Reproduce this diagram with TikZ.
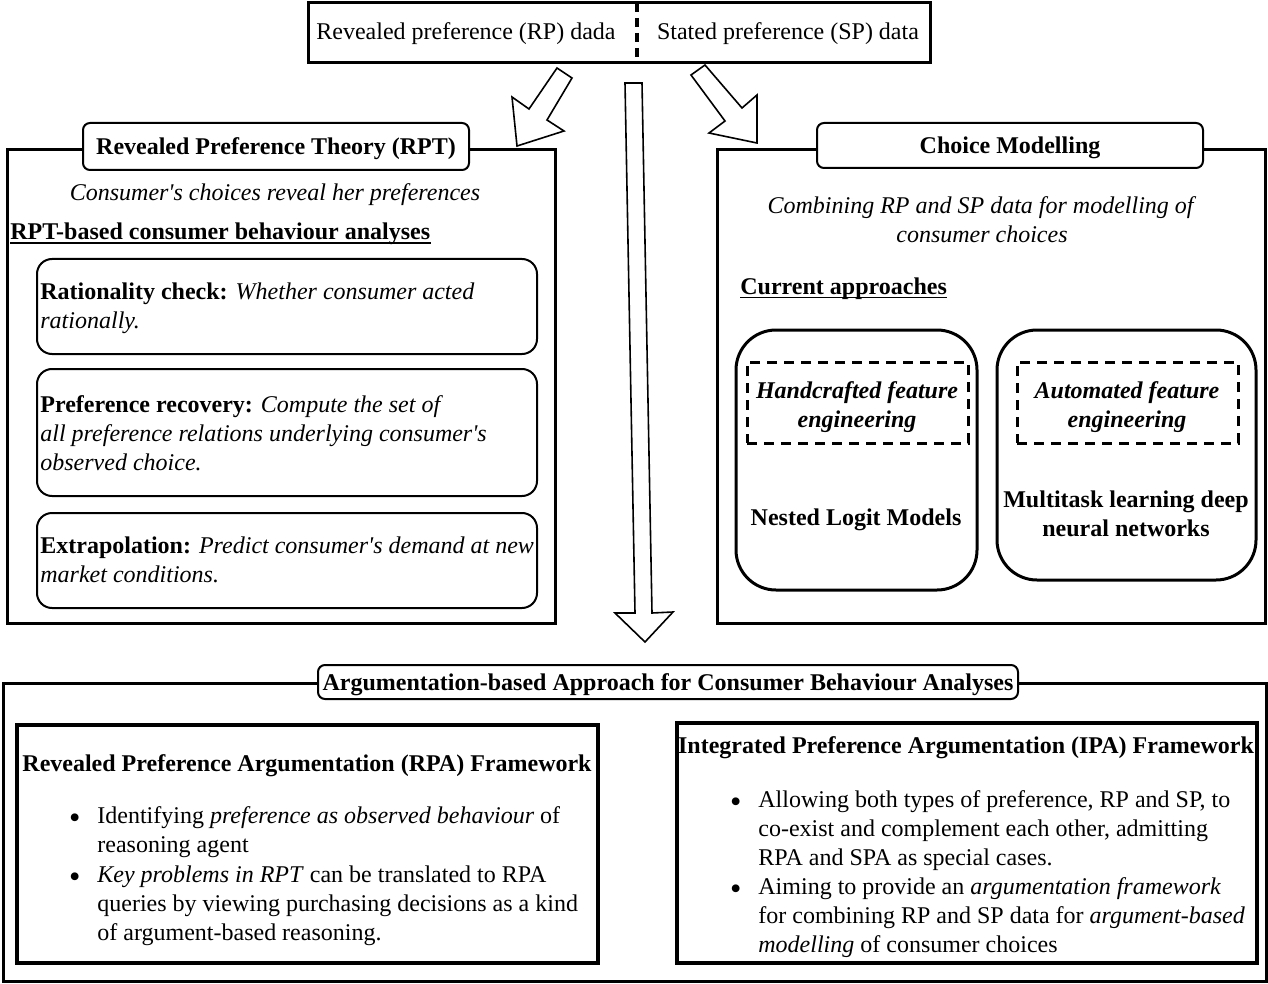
\documentclass[tikz,border=0pt]{standalone}
\usepackage{fontspec}
\setmainfont{Liberation Serif}[Ligatures=TeXOff]
\usetikzlibrary{fit}
\newcommand{\mybul}{\llap{\raisebox{-0.45ex}{\scalebox{1.35}{\textbullet}}\hspace{8.5pt}}}
\begin{document}
\begin{tikzpicture}[x=0.5pt,y=-0.5pt,
  every node/.style={inner sep=0pt, font=\fontsize{12}{14.5}\selectfont},
  bigframe/.style={draw, line width=1.5pt, inner sep=0pt},
  titlebox/.style={draw, fill=white, line width=1pt, rounded corners=3.5pt, inner sep=0pt},
  itembox/.style={draw, line width=1pt, rounded corners=7.5pt, inner sep=0pt},
  modelbox/.style={draw, line width=1.5pt, rounded corners=20pt, inner sep=0pt},
  dashbox/.style={draw, line width=1.5pt, dash pattern=on 5pt off 3.5pt, inner sep=0pt},
  framework/.style={draw, line width=2pt, inner sep=0pt},
  blockarrow/.style={draw, line width=0.8pt, fill=white, line join=miter},
  uline/.style={line width=0.7pt},
  txt/.style={anchor=base},
  para/.style={anchor=north west, align=left},
  cpara/.style={anchor=north, align=center}
]
\useasboundingbox (0,0) rectangle (1268,984);

% ---------- top data box ----------
\node[bigframe, fit={(308,3) (930,63)}] (data) {};
\coordinate (divtop) at (637,3);
\coordinate (divbot) at (637,63);
\draw[line width=1.8pt, dash pattern=on 4.5pt off 3pt] (divtop) -- (divbot);
\node[txt] (rp) at (466,40) {Revealed preference (RP) dada};
\node[txt] (sp) at (788,40) {Stated preference (SP) data};

% ---------- RPT box ----------
\node[bigframe, fit={(7,150) (555,623)}] (rpt) {};
\node[titlebox, fit={(83,123) (469,170)}] (rpttitle) {};
\node[txt] (rpttxt) at (276,155) {\textbf{Revealed Preference Theory (RPT)}};
\node[txt] (rptsub) at (275,201) {\textit{Consumer's choices reveal her preferences}};
\node[anchor=base west] (rpthead) at (10,240) {\textbf{RPT-based consumer behaviour analyses}};
\draw[uline] ([yshift=-1.6pt]rpthead.base west) -- ([yshift=-1.6pt]rpthead.base east);

\node[itembox, fit={(37,259) (537,354)}] (ratbox) {};
\node[itembox, fit={(37,369) (537,496)}] (prefbox) {};
\node[itembox, fit={(37,513) (537,608)}] (extbox) {};
\node[para] (rattxt) at (40,279) {\strut\textbf{Rationality check:} \textit{Whether consumer acted}\\\textit{rationally.}};
\node[para] (preftxt) at (40,392) {\strut\textbf{Preference recovery:} \textit{Compute the set of}\\\textit{all preference relations underlying consumer's}\\\textit{observed choice.}};
\node[para] (exttxt) at (40,533) {\strut\textbf{Extrapolation:} \textit{Predict consumer's demand at new}\\\textit{market conditions.}};

% ---------- Choice modelling box ----------
\node[bigframe, fit={(717,150) (1265,623)}] (cm) {};
\node[titlebox, fit={(817,123) (1203,168)}] (cmtitle) {};
\node[txt] (cmtxt) at (1010,154) {\textbf{Choice Modelling}};
\node[cpara] (cmsub) at (982,193) {\strut\textit{Combining RP and SP data for modelling of}\\\textit{consumer choices}};
\node[anchor=base west] (cmhead) at (740,294) {\textbf{Current approaches}};
\draw[uline] ([yshift=-1.6pt]cmhead.base west) -- ([yshift=-1.6pt]cmhead.base east);

\node[modelbox, fit={(736,330) (977,590)}] (nlbox) {};
\node[modelbox, fit={(997,330) (1256,580)}] (mtbox) {};
\node[dashbox, fit={(747,362) (968,443)}] (hfbox) {};
\node[dashbox, fit={(1017,362) (1238,443)}] (afbox) {};
\node[cpara] (hftxt) at (857,378) {\strut\textbf{\textit{Handcrafted feature}}\\\textbf{\textit{engineering}}};
\node[cpara] (aftxt) at (1127,378) {\strut\textbf{\textit{Automated feature}}\\\textbf{\textit{engineering}}};
\node[txt] (nltxt) at (856,525) {\textbf{Nested Logit Models}};
\node[cpara] (mttxt) at (1126,487) {\strut\textbf{Multitask learning deep}\\\textbf{neural networks}};

% ---------- block arrows ----------
\draw[blockarrow] (557,68) -- (572,78) -- (547,120) -- (564,131) -- (517,146) -- (512,97) -- (529,109) -- cycle;
\draw[blockarrow] (705,65) -- (691,75) -- (725,121) -- (709,133) -- (757,143) -- (757,95) -- (742,108) -- cycle;
\draw[blockarrow] (625,83) -- (642,83) -- (652,613) -- (673,612) -- (645,642) -- (615,613) -- (635,613) -- cycle;

% ---------- Argumentation box ----------
\node[bigframe, fit={(3,683) (1266,981)}] (arg) {};
\node[titlebox, fit={(318,665) (1018,699)}] (argtitle) {};
\node[txt] (argtxt) at (668,690) {\textbf{Argumentation-based Approach for Consumer Behaviour Analyses}};

\node[framework, fit={(17,725) (598,963)}] (rpa) {};
\node[txt] (rpatitle) at (307,771) {\textbf{Revealed Preference Argumentation (RPA) Framework}};
\node[para] (rpa1) at (97,803) {\strut\mybul Identifying \textit{preference as observed behaviour} of\\reasoning agent};
\node[para] (rpa2) at (97,862) {\strut\mybul\textit{Key problems in RPT} can be translated to RPA\\queries by viewing purchasing decisions as a kind\\of argument-based reasoning.};

\node[framework, fit={(677,723) (1257,963)}] (ipa) {};
\node[txt] (ipatitle) at (966,753) {\textbf{Integrated Preference Argumentation (IPA) Framework}};
\node[para] (ipa1) at (758,787) {\strut\mybul Allowing both types of preference, RP and SP, to\\co-exist and complement each other, admitting\\RPA and SPA as special cases.};
\node[para] (ipa2) at (758,874) {\strut\mybul Aiming to provide an \textit{argumentation framework}\\for combining RP and SP data for \textit{argument-based}\\\textit{modelling} of consumer choices};
\end{tikzpicture}
\end{document}
